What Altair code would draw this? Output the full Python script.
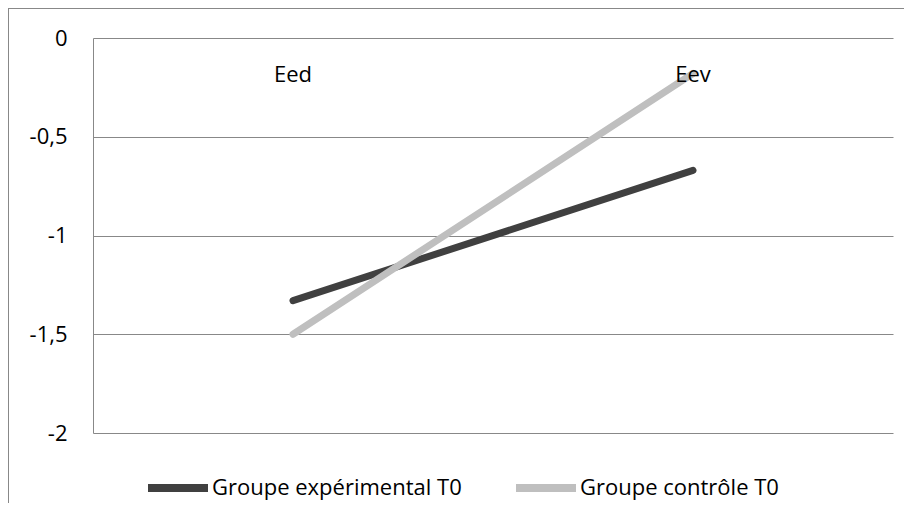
import altair as alt
import pandas as pd

categories = ["Eed", "Eev"]
series_names = ["Groupe expérimental T0", "Groupe contrôle T0"]
exp_values = [-1.33, -0.67]
ctrl_values = [-1.5, -0.18]
y_ticks = [0, -0.5, -1, -1.5, -2]
colors = ["#404040", "#bfbfbf"]

FONT = "Open Sans"
FS = 22

rows = []
for c, v in zip(categories, exp_values):
    rows.append({"cat": c, "val": v, "serie": series_names[0]})
for c, v in zip(categories, ctrl_values):
    rows.append({"cat": c, "val": v, "serie": series_names[1]})
df = pd.DataFrame(rows)
cat_df = pd.DataFrame({"cat": categories, "zero": [0] * len(categories)})

x_enc = alt.X("cat:N", scale=alt.Scale(type="point", padding=0.5, domain=categories), axis=None)
y_scale = alt.Scale(domain=[-2, 0], nice=False, zero=False)

lines = alt.Chart(df).mark_line(strokeWidth=7, strokeCap="round").encode(
    x=x_enc,
    y=alt.Y("val:Q", scale=y_scale,
            axis=alt.Axis(values=y_ticks, title=None, ticks=False, domain=True,
                          domainColor="#888888", gridColor="#888888", grid=True,
                          labelPadding=26, labelFont=FONT, labelFontSize=FS,
                          labelColor="#000000",
                          labelExpr="replace(toString(datum.value), '.', ',')")),
    color=alt.Color("serie:N",
                    scale=alt.Scale(domain=series_names, range=colors),
                    legend=alt.Legend(title=None, orient="none", legendX=51, legendY=416,
                                      direction="horizontal", symbolType="stroke",
                                      symbolSize=3600, symbolStrokeWidth=8,
                                      labelOffset=0, columnPadding=38, labelLimit=0,
                                      labelFont=FONT, labelFontSize=FS,
                                      labelColor="#000000")),
    order=alt.Order("cat:N"),
)

cat_labels = alt.Chart(cat_df).mark_text(font=FONT, fontSize=FS, dy=37, baseline="middle",
                                         color="#000000").encode(
    x=x_enc,
    y=alt.Y("zero:Q", scale=y_scale),
    text="cat:N",
)

frame_top = alt.Chart(cat_df).mark_rule(color="#888888", strokeWidth=1).encode(
    x=alt.value(-85), x2=alt.value(815), y=alt.value(-29.5)
)
frame_left = alt.Chart(cat_df).mark_rule(color="#888888", strokeWidth=1).encode(
    x=alt.value(-84.5), y=alt.value(-30), y2=alt.value(470)
)

chart = alt.layer(frame_top, frame_left, lines, cat_labels).properties(
    width=800, height=395,
    padding={"left": 85, "top": 30, "right": 11, "bottom": 70},
    autosize=alt.AutoSizeParams(type="none"),
    background="#ffffff",
).configure_view(stroke=None)

chart.save("out.html", embed_options={"renderer": "svg", "actions": False})
